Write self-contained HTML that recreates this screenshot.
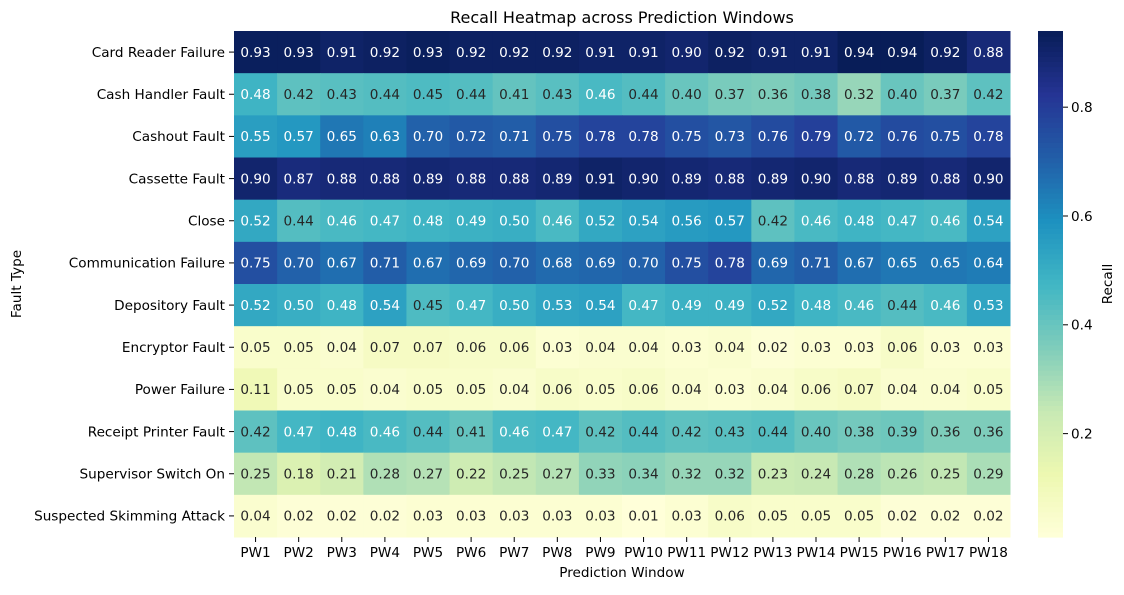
<!DOCTYPE html>
<html><head><meta charset="utf-8"><style>
body{margin:0;background:#fff;font-family:"Liberation Sans","DejaVu Sans",sans-serif;}
svg text{font-family:"DejaVu Sans","Liberation Sans",sans-serif;}
</style></head><body>
<svg id="c" width="1124" height="590"></svg>
<script>
const rows=["Card Reader Failure","Cash Handler Fault","Cashout Fault","Cassette Fault","Close","Communication Failure","Depository Fault","Encryptor Fault","Power Failure","Receipt Printer Fault","Supervisor Switch On","Suspected Skimming Attack"];
const cols=["PW1","PW2","PW3","PW4","PW5","PW6","PW7","PW8","PW9","PW10","PW11","PW12","PW13","PW14","PW15","PW16","PW17","PW18"];
const values=[
[0.93,0.93,0.91,0.92,0.93,0.92,0.92,0.92,0.91,0.91,0.90,0.92,0.91,0.91,0.94,0.94,0.92,0.88],
[0.48,0.42,0.43,0.44,0.45,0.44,0.41,0.43,0.46,0.44,0.40,0.37,0.36,0.38,0.32,0.40,0.37,0.42],
[0.55,0.57,0.65,0.63,0.70,0.72,0.71,0.75,0.78,0.78,0.75,0.73,0.76,0.79,0.72,0.76,0.75,0.78],
[0.90,0.87,0.88,0.88,0.89,0.88,0.88,0.89,0.91,0.90,0.89,0.88,0.89,0.90,0.88,0.89,0.88,0.90],
[0.52,0.44,0.46,0.47,0.48,0.49,0.50,0.46,0.52,0.54,0.56,0.57,0.42,0.46,0.48,0.47,0.46,0.54],
[0.75,0.70,0.67,0.71,0.67,0.69,0.70,0.68,0.69,0.70,0.75,0.78,0.69,0.71,0.67,0.65,0.65,0.64],
[0.52,0.50,0.48,0.54,0.45,0.47,0.50,0.53,0.54,0.47,0.49,0.49,0.52,0.48,0.46,0.44,0.46,0.53],
[0.05,0.05,0.04,0.07,0.07,0.06,0.06,0.03,0.04,0.04,0.03,0.04,0.02,0.03,0.03,0.06,0.03,0.03],
[0.11,0.05,0.05,0.04,0.05,0.05,0.04,0.06,0.05,0.06,0.04,0.03,0.04,0.06,0.07,0.04,0.04,0.05],
[0.42,0.47,0.48,0.46,0.44,0.41,0.46,0.47,0.42,0.44,0.42,0.43,0.44,0.40,0.38,0.39,0.36,0.36],
[0.25,0.18,0.21,0.28,0.27,0.22,0.25,0.27,0.33,0.34,0.32,0.32,0.23,0.24,0.28,0.26,0.25,0.29],
[0.04,0.02,0.02,0.02,0.03,0.03,0.03,0.03,0.03,0.01,0.03,0.06,0.05,0.05,0.05,0.02,0.02,0.02]];
const cbTicks=[0.2,0.4,0.6,0.8];
const vmin=0.01,vmax=0.94;
const L=234,R=1010,T=31,B=537;
const FS=13.6;
const stops=["#ffffd9","#edf8b1","#c7e9b4","#7fcdbb","#41b6c4","#1d91c0","#225ea8","#253494","#081d58"].map(h=>[1,3,5].map(i=>parseInt(h.substr(i,2),16)));
function cmap(v){let t=Math.max(0,Math.min(1,(v-vmin)/(vmax-vmin)))*(stops.length-1);let i=Math.min(Math.floor(t),stops.length-2),f=t-i;return stops[i].map((c,k)=>Math.round(c+(stops[i+1][k]-c)*f));}
function lum(c){const l=c.map(x=>{x/=255;return x<=0.03928?x/12.92:Math.pow((x+0.055)/1.055,2.4)});return 0.2126*l[0]+0.7152*l[1]+0.0722*l[2];}
const svg=document.getElementById('c');const NS="http://www.w3.org/2000/svg";
function el(tag,a,txt){const e=document.createElementNS(NS,tag);for(const k in a)e.setAttribute(k,a[k]);if(txt!=null)e.textContent=txt;svg.appendChild(e);return e;}
const cw=(R-L)/cols.length,ch=(B-T)/rows.length;
const xs=i=>L+i*cw, ys=j=>T+j*ch;
values.forEach((row,j)=>row.forEach((v,i)=>{const c=cmap(v);
const r=el('rect',{x:xs(i),y:ys(j),width:cw+0.5,height:ch+0.5,fill:`rgb(${c})`});


const t=el('text',{x:xs(i)+cw/2,y:ys(j)+ch/2+4.8,'text-anchor':'middle','font-size':FS,fill:lum(c)>0.408?'#262626':'#fff'},v.toFixed(2));


}));
rows.forEach((n,j)=>{el('line',{x1:L-5,x2:L,y1:ys(j)+ch/2,y2:ys(j)+ch/2,stroke:'#000'});
const t=el('text',{x:L-9,y:ys(j)+ch/2+4.8,'text-anchor':'end','font-size':FS,fill:'#000'},n);

});
cols.forEach((n,i)=>{el('line',{x1:xs(i)+cw/2,x2:xs(i)+cw/2,y1:B,y2:B+5,stroke:'#000'});
const t=el('text',{x:xs(i)+cw/2,y:B+20,'text-anchor':'middle','font-size':FS,fill:'#000'},n);

});
let t=el('text',{x:(L+R)/2,y:23,'text-anchor':'middle','font-size':16},"Recall Heatmap across Prediction Windows");

t=el('text',{x:(L+R)/2,y:577,'text-anchor':'middle','font-size':FS},"Prediction Window");

t=el('text',{x:21,y:(T+B)/2,'text-anchor':'middle','font-size':FS,transform:`rotate(-90 21 ${(T+B)/2})`},"Fault Type");

const CX=1038,CW=25,N=100;
const cy=v=>B-(v-vmin)/(vmax-vmin)*(B-T);
for(let k=0;k<N;k++){const v0=vmin+(vmax-vmin)*k/N,v1=vmin+(vmax-vmin)*(k+1)/N;
const r=el('rect',{x:CX,y:cy(v1),width:CW,height:cy(v0)-cy(v1)+0.6,fill:`rgb(${cmap((v0+v1)/2)})`});
}
cbTicks.forEach(v=>{el('line',{x1:CX+CW,x2:CX+CW+5,y1:cy(v),y2:cy(v),stroke:'#000'});
const t=el('text',{x:CX+CW+8,y:cy(v)+4.8,'font-size':FS},v.toFixed(1));
});
t=el('text',{x:1112,y:(T+B)/2,'text-anchor':'middle','font-size':FS,transform:`rotate(-90 1112 ${(T+B)/2})`},"Recall");

</script></body></html>
